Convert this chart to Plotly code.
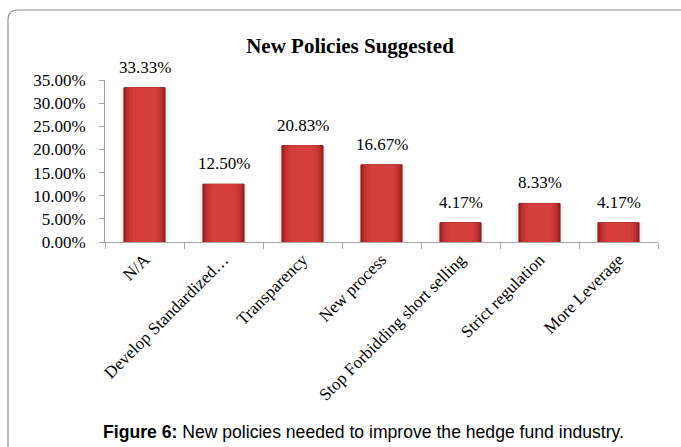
import plotly.graph_objects as go

# Survey results: share of respondents suggesting each new policy
categories = [
    "N/A",
    "Develop Standardized…",
    "Transparency",
    "New process",
    "Stop Forbidding short selling",
    "Strict regulation",
    "More Leverage",
]
shares = [33.33, 12.50, 20.83, 16.67, 4.17, 8.33, 4.17]
value_labels = ["33.33%", "12.50%", "20.83%", "16.67%", "4.17%", "8.33%", "4.17%"]

SERIF = "Liberation Serif, Times New Roman, serif"
SANS = "Liberation Sans, Arial, sans-serif"

# plot-area geometry in pixels (used for the surrounding frame)
W, H = 681, 447
L, R, T, B = 105, 23, 80, 205
PW, PH = W - L - R, H - T - B


def px_to_paper(px, py):
    return (px - L) / PW, (H - B - py) / PH


fig = go.Figure()

# soft shadow behind each bar
fig.add_trace(go.Bar(
    x=categories, y=shares, width=0.60,
    marker=dict(color="rgba(0,0,0,0.06)", line=dict(width=0)),
    hoverinfo="skip", showlegend=False,
))
# bevelled red bars: dark rim fading to a lighter centre
bevel = [
    (0.52, "#9E2424", dict(color="#861B1B", width=1)),
    (0.48, "#B02B2B", dict(width=0)),
    (0.44, "#C03232", dict(width=0)),
    (0.38, "#CB3938", dict(width=0)),
    (0.30, "#D43F3E", dict(width=0)),
]
for i, (w, col, ln) in enumerate(bevel):
    fig.add_trace(go.Bar(
        x=categories, y=shares, width=w,
        marker=dict(color=col, line=ln),
        hoverinfo=None if i == 0 else "skip", showlegend=False,
    ))

# value labels above the bars
for cat, val, lab in zip(categories, shares, value_labels):
    fig.add_annotation(
        x=cat, y=val, text=lab, showarrow=False,
        yanchor="bottom", yshift=9,
        font=dict(family=SERIF, size=17, color="#000000"),
    )

# frame around the chart (rounded top-left corner)
x0, y0 = px_to_paper(8, 460)
x1, y1 = px_to_paper(8, 20)
xc, yc = px_to_paper(8, 10)
x2, y2 = px_to_paper(18, 10)
x3, y3 = px_to_paper(700, 10)
fig.add_shape(
    type="path", xref="paper", yref="paper",
    path=f"M {x0},{y0} L {x1},{y1} Q {xc},{yc} {x2},{y2} L {x3},{y3}",
    line=dict(color="#8C8C8C", width=1.2),
)

# caption below the chart
cx, cy = px_to_paper(363, 432)
fig.add_annotation(
    xref="paper", yref="paper", x=cx, y=cy,
    text="<b>Figure 6:</b> New policies needed to improve the hedge fund industry.",
    showarrow=False, xanchor="center", yanchor="middle",
    font=dict(family=SANS, size=17.6, color="#000000"),
)

fig.update_layout(
    width=W, height=H,
    margin=dict(l=L, r=R, t=T, b=B, autoexpand=False),
    paper_bgcolor="white", plot_bgcolor="white",
    barmode="overlay",
    title=dict(
        text="<b>New Policies Suggested</b>",
        x=350 / W, xref="container", xanchor="center",
        y=1 - 46 / H, yref="container", yanchor="middle",
        font=dict(family=SERIF, size=21, color="#000000"),
    ),
    xaxis=dict(
        type="category",
        showgrid=False, zeroline=False,
        showline=True, linecolor="#A6A6A6", linewidth=1,
        ticks="outside", ticklen=6, tickcolor="#A6A6A6", tickson="boundaries",
        tickangle=-45,
        tickfont=dict(family=SERIF, size=17, color="#000000"),
    ),
    yaxis=dict(
        range=[0, 35], dtick=5, tick0=0,
        tickformat=".2f", ticksuffix="%",
        showgrid=False, zeroline=False,
        showline=True, linecolor="#A6A6A6", linewidth=1,
        ticks="outside", ticklen=5, tickcolor="#A6A6A6",
        ticklabelstandoff=10,
        tickfont=dict(family=SERIF, size=17, color="#000000"),
    ),
)

fig.write_html("out.html")
